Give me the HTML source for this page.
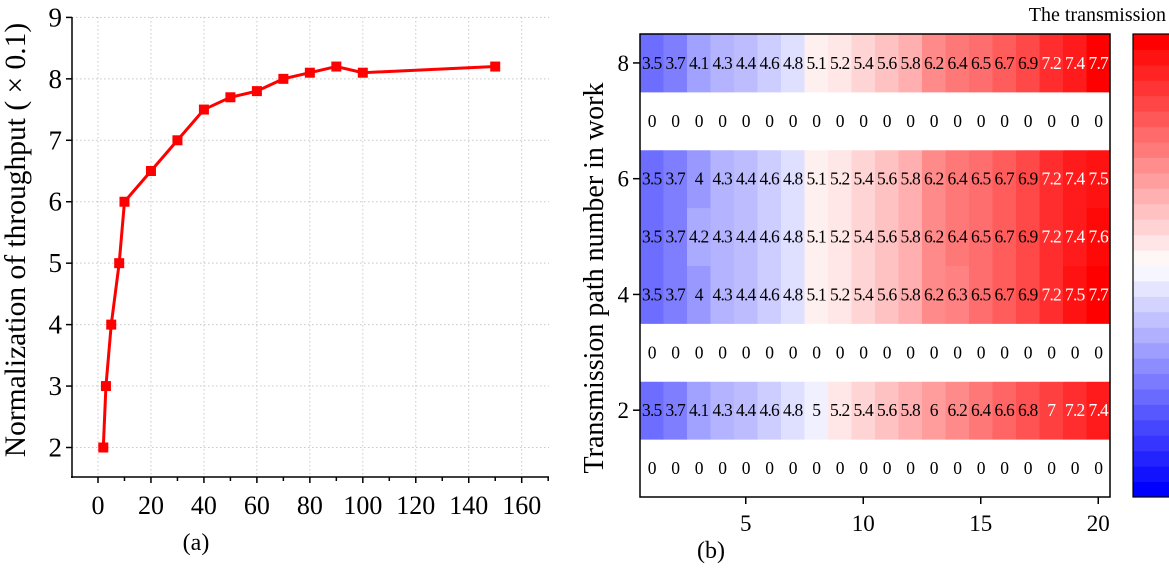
<!DOCTYPE html>
<html><head><meta charset="utf-8"><style>
html,body{margin:0;padding:0;background:#fff;}
svg{display:block;font-family:"Liberation Serif","Times New Roman",serif;}
text{font-family:"Liberation Serif","Times New Roman",serif;}
</style></head><body>
<svg id="root" width="1169" height="571" viewBox="0 0 1169 571">
<g id="left"></g>
<g id="right"></g>
</svg>
<script>
// ---- Chart (a) data ----
const xVals = [2,3,5,8,10,20,30,40,50,60,70,80,90,100,150];
const yVals = [2,3,4,5,6,6.5,7,7.5,7.7,7.8,8,8.1,8.2,8.1,8.2];
const xTicks = [0,20,40,60,80,100,120,140,160];
const yTicks = [2,3,4,5,6,7,8,9];
// ---- Chart (b) data (rows from 1 bottom to 8 top) ----
const row1 = [0,0,0,0,0,0,0,0,0,0,0,0,0,0,0,0,0,0,0,0];
const row2 = [3.5,3.7,4.1,4.3,4.4,4.6,4.8,5,5.2,5.4,5.6,5.8,6,6.2,6.4,6.6,6.8,7,7.2,7.4];
const row3 = [0,0,0,0,0,0,0,0,0,0,0,0,0,0,0,0,0,0,0,0];
const row4 = [3.5,3.7,4,4.3,4.4,4.6,4.8,5.1,5.2,5.4,5.6,5.8,6.2,6.3,6.5,6.7,6.9,7.2,7.5,7.7];
const row5 = [3.5,3.7,4.2,4.3,4.4,4.6,4.8,5.1,5.2,5.4,5.6,5.8,6.2,6.4,6.5,6.7,6.9,7.2,7.4,7.6];
const row6 = [3.5,3.7,4,4.3,4.4,4.6,4.8,5.1,5.2,5.4,5.6,5.8,6.2,6.4,6.5,6.7,6.9,7.2,7.4,7.5];
const row7 = [0,0,0,0,0,0,0,0,0,0,0,0,0,0,0,0,0,0,0,0];
const row8 = [3.5,3.7,4.1,4.3,4.4,4.6,4.8,5.1,5.2,5.4,5.6,5.8,6.2,6.4,6.5,6.7,6.9,7.2,7.4,7.7];
const heatRows = [row1,row2,row3,row4,row5,row6,row7,row8];
const hxTicks = [5,10,15,20];
const hyTicks = [2,4,6,8];

const NS='http://www.w3.org/2000/svg';
function mk(parent,tag,attrs,text){const e=document.createElementNS(NS,tag);for(const k in attrs)e.setAttribute(k,attrs[k]);if(text!==undefined)e.textContent=text;parent.appendChild(e);return e;}

// ---------- left chart ----------
const L=document.getElementById('left');
const px0=72,px1=549,py0=477,py1=17;
const sx=v=>98+(v-0)*(521.7-98)/160;
const sy=v=>447.5-(v-2)*(447.5-17.4)/7;
xTicks.forEach(t=>{const g=mk(L,'line',{x1:sx(t),x2:sx(t),y1:py1,y2:py0,stroke:'#c8c8c8','stroke-width':1,'stroke-dasharray':'1.5,2.5'});});
yTicks.forEach(t=>{const g=mk(L,'line',{x1:px0,x2:px1,y1:sy(t),y2:sy(t),stroke:'#c8c8c8','stroke-width':1,'stroke-dasharray':'1.5,2.5'});});
let ax=mk(L,'line',{x1:px0,x2:px0,y1:py1,y2:py0+1,stroke:'#000','stroke-width':1.5});

ax=mk(L,'line',{x1:px0-1,x2:px1,y1:py0,y2:py0,stroke:'#000','stroke-width':1.5});

yTicks.forEach(t=>{mk(L,'line',{x1:px0-6,x2:px0,y1:sy(t),y2:sy(t),stroke:'#000','stroke-width':1.5});
 const tx=mk(L,'text',{x:px0-10,y:sy(t)+9,'text-anchor':'end','font-size':27},t);
 });
for(let v=-10;v<=170;v+=10){const x=sx(v);if(x<px0||x>px1)continue;mk(L,'line',{x1:x,x2:x,y1:py0,y2:py0+(v%20===0?6:4),stroke:'#000','stroke-width':1.5});}
xTicks.forEach(t=>{const tx=mk(L,'text',{x:sx(t),y:514,'text-anchor':'middle','font-size':26},t);
 });
let tt=mk(L,'text',{x:0,y:0,'text-anchor':'middle','font-size':29.5,transform:'translate(25,240) rotate(-90)'},'Normalization of throughput ( × 0.1)');

tt=mk(L,'text',{x:196,y:550,'text-anchor':'middle','font-size':24},'(a)');

const line=mk(L,'polyline',{points:xVals.map((x,i)=>sx(x)+','+sy(yVals[i])).join(' '),fill:'none',stroke:'#f00','stroke-width':3});

xVals.forEach((x,i)=>{const r=mk(L,'rect',{x:sx(x)-5,y:sy(yVals[i])-5,width:10,height:10,fill:'#f00'});
 });

// ---------- right heatmap ----------
const R=document.getElementById('right');
const hx0=640,hx1=1110,hy0=34,hy1=497;
const cw=(hx1-hx0)/20,ch=(hy1-hy0)/8;
const hcx=c=>hx0+(c-0.5)*cw;
const hcy=r=>hy1-(r-0.5)*ch;
function col(v){
 if(v===0) return '#ffffff';
 const mid=5.05;
 if(v>=mid){let t=Math.min(1,0.04+(v-mid)/2.75);const g=Math.round(255*(1-t));return `rgb(255,${g},${g})`;}
 let t=Math.min(1,0.04+(mid-v)/2.9);const g=Math.round(255*(1-t));return `rgb(${g},${g},255)`;
}
heatRows.forEach((row,ri)=>{row.forEach((v,ci)=>{
 const r=mk(R,'rect',{x:hcx(ci+1)-cw/2,y:hcy(ri+1)-ch/2,width:cw+0.5,height:ch+0.5,fill:col(v)});
 
 const t=mk(R,'text',{x:hcx(ci+1),y:hcy(ri+1)+6,'text-anchor':'middle','font-size':17.5,fill:v>=7?'#fff':'#000','letter-spacing':'-0.8'},String(v));
 
});});
let bx=mk(R,'rect',{x:hx0,y:hy0,width:hx1-hx0,height:hy1-hy0,fill:'none',stroke:'#000','stroke-width':1.5});

hxTicks.forEach(t=>{mk(R,'line',{x1:hcx(t),x2:hcx(t),y1:hy1,y2:hy1+7,stroke:'#000','stroke-width':1.5});
 const tx=mk(R,'text',{x:hcx(t),y:531,'text-anchor':'middle','font-size':23},t);
 });
hyTicks.forEach(t=>{mk(R,'line',{x1:hx0-7,x2:hx0,y1:hcy(t),y2:hcy(t),stroke:'#000','stroke-width':1.5});
 const tx=mk(R,'text',{x:hx0-11,y:hcy(t)+8,'text-anchor':'end','font-size':23},t);
 });
tt=mk(R,'text',{x:0,y:0,'text-anchor':'middle','font-size':28,transform:'translate(603,278) rotate(-90)'},'Transmission path number in work');

tt=mk(R,'text',{x:711,y:558,'text-anchor':'middle','font-size':24},'(b)');

const cbx=1133,cbw=40,nSteps=30;
for(let i=0;i<nSteps;i++){const t=i/(nSteps-1);
 let c; if(t<0.5){const g=Math.round(255*(t/0.5));c=`rgb(${g},${g},255)`;}else{const g=Math.round(255*((1-t)/0.5));c=`rgb(255,${g},${g})`;}
 const h=(hy1-hy0)/nSteps;
 const r=mk(R,'rect',{x:cbx,y:hy1-(i+1)*h,width:cbw,height:h+0.5,fill:c});
 }
bx=mk(R,'rect',{x:cbx,y:hy0,width:cbw,height:hy1-hy0,fill:'none',stroke:'#000','stroke-width':1.2});

tt=mk(R,'text',{x:1166,y:21,'text-anchor':'end','font-size':20},'The transmission');

</script>
</body></html>
